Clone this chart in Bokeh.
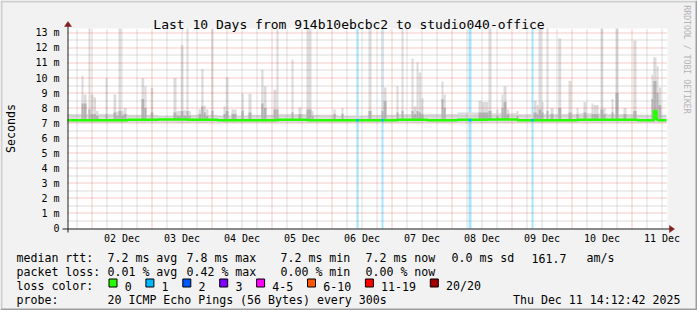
import numpy as np
from bokeh.plotting import figure
from bokeh.models import Range1d, FixedTicker, Label, BoxAnnotation
from bokeh.embed import file_html
from bokeh.resources import INLINE

# ------------------------------------------------------------------ data
title_text = "Last 10 Days from 914b10ebcbc2 to studio040-office"
# time axis: hours since Mon Dec 01 14:12:42 2025 (window = 240 h)
first_midnight_h = 9.7883          # Dec 02 00:00
day_labels = ["02 Dec", "03 Dec", "04 Dec", "05 Dec", "06 Dec",
              "07 Dec", "08 Dec", "09 Dec", "10 Dec", "11 Dec"]
y_ticks = [0, 1, 2, 3, 4, 5, 6, 7, 8, 9, 10, 11, 12, 13]
y_tick_labels = ["0", "1 m", "2 m", "3 m", "4 m", "5 m", "6 m", "7 m",
                 "8 m", "9 m", "10 m", "11 m", "12 m", "13 m"]

# background smoke band (ms)
base_h = [0, 12, 24, 36, 48, 60, 72, 84, 96, 108, 120, 132, 144, 156,
          168, 180, 192, 204, 216, 228, 239.6]
base_top = [7.6, 7.6, 7.55, 7.5, 7.55, 7.5, 7.55, 7.6, 7.55, 7.5, 7.55,
            7.6, 7.6, 7.7, 7.65, 7.6, 7.6, 7.65, 7.6, 7.55, 7.6]
smoke_min = 7.02

# smoke spikes: start/end hour, max ms, denser core ms
spike_h0 = [5.6, 6.4, 8.4, 9.2, 10.4, 11.4, 15.2, 18.4, 19.5, 20.4, 21.5, 22.5,
            29.6, 30.7, 33.3, 42.4, 43.6, 45.3, 46.4, 47.6, 48.4, 52.4, 53.5,
            54.4, 55.3, 57.6, 62.4, 63.3, 65.6, 69.6, 72.4, 77.5, 78.4, 82.4,
            83.6, 89.6, 92.4, 95.6, 97.6, 106.3, 109.6, 120.4, 125.6, 126.4,
            131.6, 133.6, 137.6, 138.4, 139.6, 140.4, 141.5, 149.6, 150.4,
            164.4, 165.6, 168.4, 171.6, 173.6, 174.4, 175.6, 179.6, 186.4,
            187.6, 188.4, 189.6, 191.6, 193.2, 196.3, 200.4, 203.6, 206.4,
            209.6, 210.4, 213.2, 214.3, 217.6, 219.2, 222.4, 226.3, 233.6,
            234.3, 235.6, 236.4]
spike_h1 = [6.4, 7.6, 9.2, 10.4, 11.4, 12.4, 16.0, 19.5, 20.4, 21.5, 22.5, 23.6,
            30.7, 31.6, 34.3, 43.6, 45.3, 46.4, 47.6, 48.4, 49.3, 53.5, 54.4,
            55.3, 56.3, 58.4, 63.3, 64.4, 67.6, 70.5, 73.6, 78.4, 79.6, 83.6,
            84.4, 90.4, 93.5, 97.6, 98.4, 107.3, 110.4, 121.6, 126.4, 127.6,
            132.4, 134.4, 138.4, 139.6, 140.4, 141.5, 142.4, 150.4, 151.3,
            165.6, 168.4, 169.6, 172.4, 174.4, 175.6, 176.7, 180.4, 187.6,
            188.4, 189.6, 190.4, 192.4, 194.4, 197.5, 201.6, 204.4, 207.6,
            210.4, 212.4, 214.3, 215.2, 218.4, 220.4, 223.6, 227.6, 234.3,
            235.6, 236.4, 237.5]
spike_max = [10.15, 8.9, 13.4, 8.9, 8.7, 7.8, 10.0, 8.9, 7.75, 13.4, 7.8, 8.0,
             10.0, 9.45, 9.35, 10.0, 7.8, 12.17, 7.85, 13.4, 7.8, 7.9, 10.6,
             8.17, 7.9, 13.4, 8.1, 10.05, 7.9, 8.95, 8.95, 10.55, 9.45, 9.22,
             13.4, 11.22, 8.04, 13.4, 7.8, 7.9, 8.0, 13.4, 13.4, 9.37,
             9.47, 13.4, 11.29, 8.1, 11.04, 10.37, 8.65, 9.77, 8.9,
             8.49, 8.4, 13.4, 7.9, 8.9, 9.45, 7.9, 7.8, 8.5,
             8.2, 13.4, 8.4, 13.4, 8.0, 12.62, 9.82, 8.0, 8.4,
             8.3, 8.2, 13.4, 8.0, 8.6, 13.4, 8.0, 12.49, 10.22,
             11.38, 10.78, 9.37]
spike_core = [8.3, 8.3, 7.9, 7.6, 7.6, 7.5, 7.6, 7.7, 7.5, 7.8, 7.5, 7.6,
              8.6, 8.0, 7.7, 7.7, 7.5, 7.8, 7.5, 7.8, 7.5, 7.6, 8.1,
              7.7, 7.5, 7.8, 7.6, 7.8, 7.6, 7.8, 7.7, 8.3, 8.0, 7.9,
              7.9, 7.7, 7.6, 7.9, 7.5, 7.6, 7.6, 7.8, 7.8, 8.45,
              7.7, 7.8, 7.8, 7.6, 7.8, 7.7, 7.6, 8.6, 8.0,
              7.7, 7.7, 7.8, 7.5, 8.0, 8.4, 7.6, 7.5, 7.7,
              7.6, 7.9, 7.7, 7.8, 7.6, 8.0, 7.7, 7.6, 7.7,
              7.6, 7.6, 7.9, 7.6, 7.7, 9.0, 7.6, 7.8, 8.6,
              9.8, 9.0, 8.2]

# median rtt (ms)
median_h = [0, 12, 24, 36, 48, 60, 72, 84, 96, 108, 120, 132, 144, 156, 168,
            180, 192, 204, 216, 228, 234.6, 235.6, 236.2, 239.6]
median_ms = [7.2, 7.2, 7.22, 7.24, 7.22, 7.2, 7.2, 7.22, 7.2, 7.2, 7.2, 7.22,
             7.2, 7.22, 7.24, 7.2, 7.2, 7.22, 7.22, 7.2, 7.8, 7.25, 7.2, 7.2]

# packet-loss events (hour, width in hours, lost pings of 20)
loss_h = [116.0, 126.0, 161.0, 186.0]
loss_w = [0.9, 0.8, 1.2, 0.8]
loss_n = [1, 1, 1, 1]

loss_labels = ["0", "1", "2", "3", "4-5", "6-10", "11-19", "20/20"]
loss_colors = ["#26ff00", "#00b8ff", "#0059ff", "#7e00ff", "#ff00ff",
               "#ff5500", "#ff0000", "#a00000"]

stats_rtt = ["median rtt:", "7.2 ms avg", "7.8 ms max", "7.2 ms min",
             "7.2 ms now", "0.0 ms sd", "161.7", "am/s"]
stats_loss = ["packet loss:", "0.01 % avg", "0.42 % max", "0.00 % min",
              "0.00 % now"]
probe_text = ["probe:", "20 ICMP Echo Pings (56 Bytes) every 300s"]
stamp_text = "Thu Dec 11 14:12:42 2025"

# ------------------------------------------------------------------ layout
FONT = "DejaVu Sans Mono"
BG = "#f2f2f2"
W, H = 697, 310
X0PX, PXH = 67, 2.5                    # x px of hour 0, px per hour
Y0PX, PXMS = 228, 15.05                # y px of 0 ms, px per ms
TOP_MS = 200 / PXMS                    # top of plotting area

def hx(px):   # canvas px -> hours
    return (px - X0PX) / PXH

def vy(py):   # canvas px -> ms
    return (Y0PX - py) / PXMS

def snap_h(h):  # put a vertical hairline on a pixel centre
    return hx(np.floor(X0PX + PXH * np.asarray(h, dtype=float)) + 0.5)

def snap_v(v):
    return vy(np.floor(Y0PX - PXMS * np.asarray(v, dtype=float)) + 0.5)

p = figure(width=W, height=H,
           x_range=Range1d(hx(0), hx(W)), y_range=Range1d(vy(H), vy(0)),
           output_backend="svg", toolbar_location=None,
           min_border_left=0, min_border_right=0,
           min_border_top=0, min_border_bottom=0)
p.title.visible = False
p.background_fill_color = BG
p.border_fill_color = BG
p.outline_line_color = None
p.xgrid.visible = False
p.ygrid.visible = False

# axes (labels only), pinned to the zero lines of the plotting area
noon_ticks = [first_midnight_h + 12 + 24 * k for k in range(len(day_labels))]
p.xaxis.ticker = FixedTicker(ticks=noon_ticks)
p.xaxis.major_label_overrides = dict(zip(noon_ticks, day_labels))
p.yaxis.ticker = FixedTicker(ticks=y_ticks)
p.yaxis.major_label_overrides = dict(zip(y_ticks, y_tick_labels))
p.xaxis.fixed_location = 0
p.yaxis.fixed_location = 0
for ax in (p.xaxis[0], p.yaxis[0]):
    ax.axis_line_color = None
    ax.major_tick_line_color = None
    ax.minor_tick_line_color = None
    ax.major_tick_out = 0
    ax.major_tick_in = 0
    ax.major_label_text_font = FONT
    ax.major_label_text_font_size = "10px"
    ax.major_label_text_color = "#000000"
p.yaxis.major_label_standoff = 8
p.xaxis.major_label_standoff = 4

# plotting canvas (white)
p.quad(left=[0], right=[240], bottom=[0], top=[TOP_MS], fill_color="white",
       line_color=None)

# loss background bars
lh = np.array(loss_h); lw = np.array(loss_w)
p.quad(left=lh - lw / 2, right=lh + lw / 2, bottom=0, top=TOP_MS,
       fill_color=[loss_colors[n] for n in loss_n], fill_alpha=0.35, line_color=None)

# smoke
p.varea_step(x=base_h, y1=[smoke_min] * len(base_h), y2=base_top, step_mode="after",
             fill_color="#dddddd")
smax = np.minimum(np.array(spike_max), TOP_MS)
p.quad(left=spike_h0, right=spike_h1, bottom=smoke_min, top=smax,
       fill_color="#dcdcdc", line_color=None)
p.quad(left=spike_h0, right=spike_h1, bottom=7.25, top=spike_core,
       fill_color="#b4b4b4", line_color=None)

# grid (dotted, pixel aligned)
six = [first_midnight_h - 6 + 6 * k for k in range(41)]
minor_v = snap_h([h for i, h in enumerate(six) if 0 < h < 240 and (i - 1) % 4 != 0])
major_v = snap_h([h for i, h in enumerate(six) if 0 < h < 240 and (i - 1) % 4 == 0])
minor_hz = snap_v([t + 0.5 for t in y_ticks[:-1]])
major_hz = snap_v(y_ticks[1:])
p.segment(x0=minor_v, y0=0, x1=minor_v, y1=TOP_MS, line_color="#8f8f8f",
          line_alpha=0.6, line_dash="1 1")
p.segment(x0=0, y0=minor_hz, x1=240, y1=minor_hz, line_color="#8f8f8f",
          line_alpha=0.6, line_dash="1 1")
p.segment(x0=major_v, y0=0, x1=major_v, y1=TOP_MS, line_color="#de4f4f",
          line_alpha=0.6, line_dash="1 1")
p.segment(x0=0, y0=major_hz, x1=240, y1=major_hz, line_color="#de4f4f",
          line_alpha=0.6, line_dash="1 1")

# median
p.step(x=median_h, y=median_ms, mode="after", line_color=loss_colors[0], line_width=2.5)
p.segment(x0=lh - lw / 2, y0=7.2, x1=lh + lw / 2, y1=7.2,
          line_color=[loss_colors[n] for n in loss_n], line_width=3)

# axis lines + arrows
ax_x = float(snap_h(0)); ax_y = float(snap_v(0))
p.segment(x0=[hx(62), ax_x], y0=[ax_y, vy(232)], x1=[hx(670), ax_x], y1=[ax_y, vy(25)],
          line_color="#1f1f1f", line_width=1)
p.patches(xs=[[ax_x, hx(X0PX - 3), hx(X0PX + 4)], [hx(674), hx(669), hx(669)]],
          ys=[[vy(21), vy(26), vy(26)], [ax_y, vy(Y0PX - 3), vy(Y0PX + 4)]],
          fill_color="#801f1f", line_color="#801f1f", line_width=0.5)

# ------------------------------------------------------------------ texts
def lab(text, x, y, size="11.6px", align="left", baseline="alphabetic",
        color="#000000", angle=0.0):
    p.add_layout(Label(x=x, y=H - y, x_units="screen", y_units="screen",
                       text=text, text_font=FONT, text_font_size=size,
                       text_align=align, text_baseline=baseline,
                       text_color=color, angle=angle))

def box(x0, y0, x1, y1, color, line=None):
    p.add_layout(BoxAnnotation(left=x0, right=x1, top=H - y0, bottom=H - y1,
                               left_units="screen", right_units="screen",
                               top_units="screen", bottom_units="screen",
                               fill_color=color, fill_alpha=1.0,
                               line_color=line, line_alpha=1.0, line_width=1))

lab(title_text, 348.5, 24, size="13px", align="center")
lab("Seconds", 10, 128, align="center", baseline="middle", angle=np.pi / 2)
lab("RRDTOOL / TOBI OETIKER", 686.5, 59, size="8.2px", align="center",
    baseline="middle", color="#b4b4b4", angle=-np.pi / 2)

cols = [16, 107, 186, 280, 365, 451, 531, 586]
for t, x in zip(stats_rtt, cols):
    lab(t, x, 257.5)
for t, x in zip(stats_loss, cols):
    lab(t, x, 271.5)
lab("loss color:", 16, 285.5)
bx = 108.5
for t, c in zip(loss_labels, loss_colors):
    box(bx, 278.5, bx + 8, 286.5, c, line="#000000")
    lab(t, bx + 15.7, 285.5)
    bx += 15.7 + 7 * len(t) + 14.2
for t, x in zip(probe_text, cols):
    lab(t, x, 299.5)
lab(stamp_text, 680, 299.5, align="right")

# 3D canvas border
box(0, 0, W - 2, 2, "#cfcfcf")
box(0, 0, 2, H - 2, "#cfcfcf")
box(W - 2, 0, W, H, "#9e9e9e")
box(0, H - 2, W, H, "#9e9e9e")

open("out.html", "w").write(file_html(p, INLINE))
